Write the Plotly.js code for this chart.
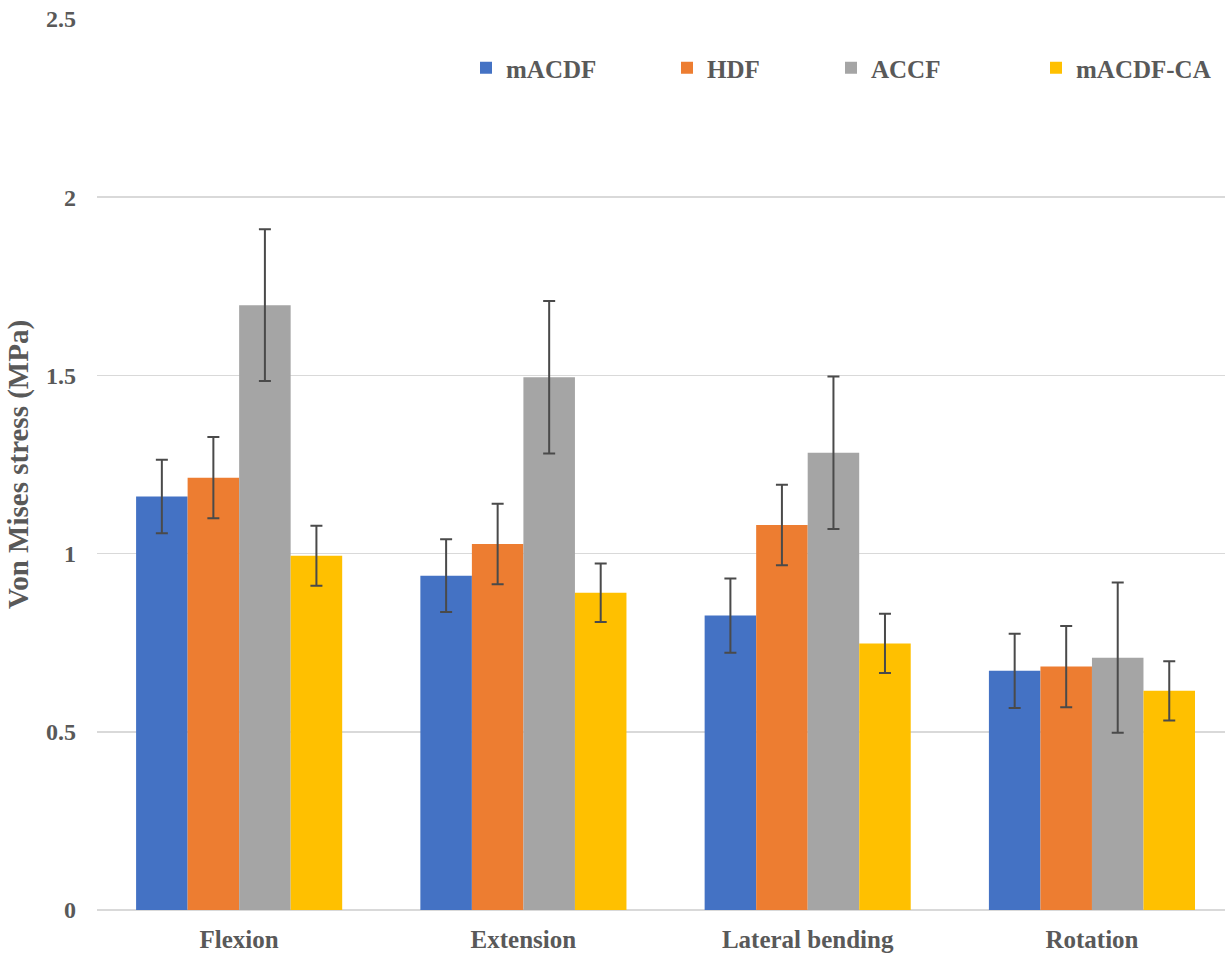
<!DOCTYPE html>
<html>
<head>
<meta charset="utf-8">
<script src="https://cdn.plot.ly/plotly-3.0.1.min.js"></script>
<style>html,body{margin:0;padding:0;background:#fff;}#chart{width:1225px;height:956px;}</style>
</head>
<body>
<div id="chart"></div>
<script>
const categories = ["Flexion", "Extension", "Lateral bending", "Rotation"];
const seriesNames = ["mACDF", "HDF", "ACCF", "mACDF-CA"];
const mACDF = [1.16, 0.938, 0.826, 0.671];
const mACDF_err = [0.103, 0.102, 0.104, 0.104];
const HDF = [1.213, 1.027, 1.080, 0.683];
const HDF_err = [0.114, 0.113, 0.113, 0.114];
const ACCF = [1.697, 1.495, 1.283, 0.708];
const ACCF_err = [0.213, 0.214, 0.214, 0.211];
const mACDF_CA = [0.994, 0.890, 0.748, 0.615];
const mACDF_CA_err = [0.084, 0.082, 0.083, 0.083];
const yTickVals = [0, 0.5, 1, 1.5, 2, 2.5];
const yTickText = ["0", "0.5", "1", "1.5", "2", "2.5"];

const colors = ["#4472C4", "#ED7D31", "#A5A5A5", "#FFC000"];
const values = [mACDF, HDF, ACCF, mACDF_CA];
const errs = [mACDF_err, HDF_err, ACCF_err, mACDF_CA_err];
const legendIds = ["legend", "legend2", "legend3", "legend4"];
const legendXpx = [466, 667, 831, 1036];

const FONT = '"Liberation Serif", "Times New Roman", serif';
const TXT = "#595959";
const L = 97, T = 19, B = 46, W = 1225, H = 956;
const plotW = W - L, plotH = H - T - B;

const traces = seriesNames.map((name, i) => ({
  type: "bar",
  name: name,
  x: categories,
  y: values[i],
  marker: {color: colors[i]},
  legend: legendIds[i],
  error_y: {type: "data", array: errs[i], visible: true, color: "#4a4a4a", thickness: 2, width: 6}
}));

const layout = {
  width: W, height: H,
  margin: {l: L, r: 0, t: T, b: B},
  paper_bgcolor: "#fff", plot_bgcolor: "#fff",
  barmode: "group", bargap: 0.275, bargroupgap: 0,
  font: {family: FONT, color: TXT, size: 24, weight: 700},
  xaxis: {
    type: "category", range: [-0.5, 3.468],
    showgrid: false, zeroline: false, showline: false, ticks: "",
    tickfont: {family: FONT, size: 25, color: TXT, weight: 700},
    ticklabelstandoff: 12
  },
  yaxis: {
    range: [0, 2.5], tickvals: yTickVals, ticktext: yTickText,
    showgrid: true, gridcolor: "#d9d9d9", gridwidth: 1.5,
    zeroline: true, zerolinecolor: "#d9d9d9", zerolinewidth: 1.5,
    showline: false, ticks: "",
    tickfont: {family: FONT, size: 24, color: TXT, weight: 700},
    ticklabelstandoff: 20,
    title: {text: "Von Mises stress (MPa)", font: {family: FONT, size: 29, color: TXT, weight: 700}, standoff: 8}
  },
  showlegend: true
};
legendIds.forEach((id, i) => {
  layout[id] = {
    xref: "paper", yref: "paper",
    x: (legendXpx[i] - L) / plotW, y: (H - B - 68) / plotH, xanchor: "left", yanchor: "middle",
    orientation: "h", bgcolor: "rgba(0,0,0,0)",
    font: {family: FONT, size: 25, color: TXT, weight: 700}
  };
});

Plotly.newPlot("chart", traces, layout, {displayModeBar: false, staticPlot: true});
</script>
</body>
</html>
